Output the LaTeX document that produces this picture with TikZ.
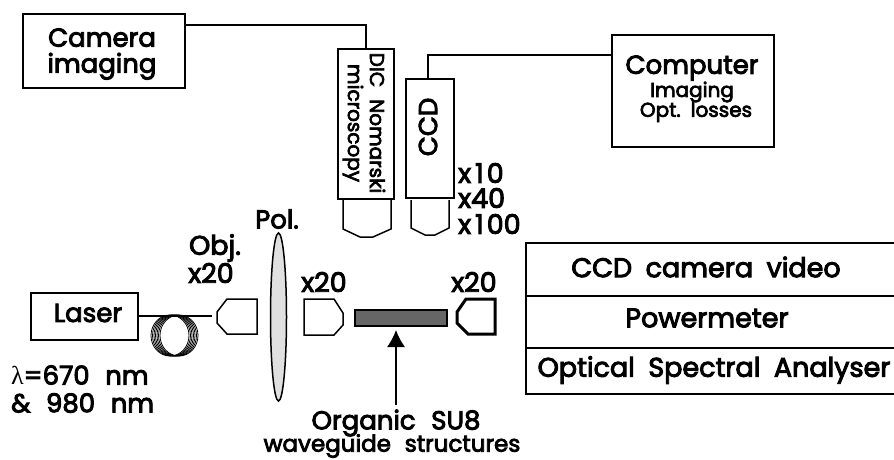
\documentclass[tikz,border=0pt]{standalone}
\usepackage{fontspec}
\setmainfont[FakeBold=3.5]{Poppins}
\newfontfamily\lamfont{Liberation Serif}
\usetikzlibrary{arrows.meta}
\tikzset{
  box/.style={draw=black,line width=1.6pt,fill=white,inner sep=0pt,anchor=north west},
  wire/.style={draw=black,line width=1.4pt},
  lbl/.style={font=\fontsize{26}{26}\selectfont,align=center,inner sep=0pt,text=black},
  lbln/.style={font=\fontsize{27}{27}\selectfont,align=center,inner sep=0pt,text=black},
  lblm/.style={font=\fontsize{23}{25}\selectfont,align=center,inner sep=0pt,text=black},
  lblo/.style={font=\fontsize{26}{26}\selectfont,align=center,inner sep=0pt,text=black},
  lblb/.style={font=\fontsize{20}{22}\selectfont,align=center,inner sep=0pt,text=black},
  obj/.style={draw=black,line width=1.5pt,fill=white}
}
\begin{document}
\begin{tikzpicture}[x=1pt,y=-1pt]
\useasboundingbox (0,0) rectangle (894,459);
\node[box,minimum width=162pt,minimum height=74pt] (cam) at (22,13) {};
\node[lbl] (camt) at (102,54) {Camera\\imaging};
\node[box,minimum width=162pt,minimum height=112pt] (comp) at (611,34) {};
\node[lbl] (compt) at (692,68) {Computer};
\node[lblb] (imgt) at (692,92) {Imaging};
\node[lblb] (optt) at (696,112) {Opt.\hspace{0.5em}losses};
\node[box,minimum width=56pt,minimum height=150pt] (dic) at (337,48) {};
\node[lblb,rotate=-90] (dict) at (364,123) {DIC\hspace{0.6em}Nomarski\\microscopy};
\node[box,minimum width=48pt,minimum height=119pt] (ccd) at (405,78) {};
\node[lbl,rotate=90] (ccdt) at (428,127) {CCD};
\coordinate (c1) at (366,25);
\coordinate (c2) at (428,55);
\draw[wire] (cam.east|-c1) -- (c1) -- (dic.north-|c1);
\draw[wire] (ccd.north-|c2) -- (c2) -- (comp.west|-c2);
\draw[obj] (343,200) -- (343,229) -- (360,237) -- (373,237) -- (391,229) -- (391,200);
\draw[obj] (411,200) -- (411,228) -- (425,235) -- (435,235) -- (449,228) -- (449,200);
\node[lbln,anchor=west] (x10) at (458,173) {x\kern4pt 1\kern3pt 0};
\node[lbln,anchor=west] (x40) at (458,198) {x40};
\node[lbln,anchor=west] (x100) at (458,224) {x\kern4pt 1\kern3pt 00};
% bench
\node[box,minimum width=107pt,minimum height=47pt] (laser) at (30,292) {};
\node[lbl] (lasert) at (88,313) {Laser};
\coordinate (f1) at (212,316);
\draw[wire] (laser.east|-f1) -- (f1);
\foreach \d in {-5,-3.5,-2,-0.5,1,2.5,4}
  \draw[black,line width=0.8pt] (175+\d,335.5) ellipse (19 and 20.5);
\node[lbln] (objt) at (215,248) {Obj.};
\node[lbln] (objx) at (211,273) {x20};
\draw[obj] (257,299) -- (227,299) -- (217,312) -- (217,323) -- (227,334) -- (257,334) -- cycle;
\node[lbl] (polt) at (277,219) {Pol.};
\draw[line width=1.5pt,fill=black!12] (278.5,317) ellipse (8 and 84);
\node[lbln] (x20a) at (324,282) {x20};
\draw[obj] (304,299) -- (334,299) -- (343,313) -- (343,325) -- (334,335) -- (304,335) -- cycle;
\node[draw=black,line width=1.8pt,fill=black!60,minimum width=92pt,minimum height=16pt,inner sep=0pt,anchor=north west] (wg) at (354,309) {};
\node[lbln] (x20b) at (474,282) {x20};
\draw[draw=black,line width=3pt] (495,299) -- (466,299) -- (457,312) -- (457,323) -- (468,334) -- (495,334) -- cycle;
\node[lblo] (sua) at (396,423) {Organic\hspace{0.6em}SU8};
\node[lblm] (sub) at (392,446) {waveguide\hspace{0.6em}structures};
\coordinate (a1) at (396,405);
\coordinate (a2) at (396,330);
\draw[wire,-{Latex[length=17pt,width=18pt]}] (a1) -- (a2);
\node[lbl,anchor=west] (l1) at (11,375) {{\lamfont λ}=670\hspace{0.6em}nm};
\node[lbl,anchor=west] (l2) at (11,403) {\&\hspace{0.6em}980\hspace{0.6em}nm};
% instruments
\coordinate (ta) at (900,243);
\coordinate (tb) at (526,243);
\coordinate (tc) at (526,394);
\coordinate (td) at (900,394);
\draw[wire,line width=1.6pt] (ta) -- (tb) -- (tc) -- (td);
\draw[wire] (tb|-0,296) -- (894,296);
\draw[wire] (tb|-0,348) -- (894,348);
\node[lbln] (r1) at (706,267) {CCD\hspace{0.5em}camera\hspace{0.5em}video};
\node[lbln] (r2) at (707,318) {Powermeter};
\node[lbln] (r3) at (714,370) {Optical\hspace{0.5em}Spectral\hspace{0.5em}Analyser};
\end{tikzpicture}
\end{document}
